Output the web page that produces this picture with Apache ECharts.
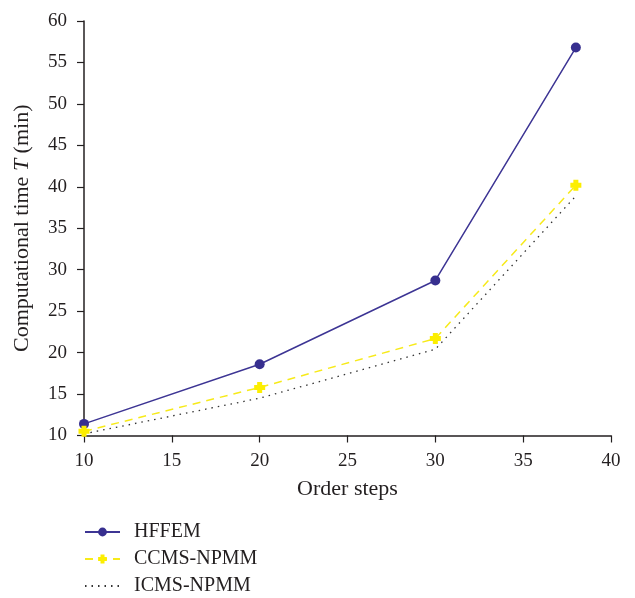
<!DOCTYPE html>
<html>
<head>
<meta charset="utf-8">
<script src="https://cdn.jsdelivr.net/npm/echarts@6/dist/echarts.min.js"></script>
<style>html,body{margin:0;padding:0;background:#fff;}#main{width:635px;height:598px;}</style>
</head>
<body>
<div id="main"></div>
<script>
const steps = [10, 20, 30, 38];
const hffem = [11.4, 18.6, 28.7, 56.8];
const ccms = [10.5, 15.8, 21.7, 40.2];
const icms = [10.2, 14.5, 20.4, 38.9];
const seriesNames = ['HFFEM', 'CCMS-NPMM', 'ICMS-NPMM'];

const font = 'Liberation Serif';
const axisColor = '#231f20';
const plusPath = 'path://M3,0 L8,0 L8,3 L11,3 L11,8 L8,8 L8,11 L3,11 L3,8 L0,8 L0,3 L3,3 Z';

function pairs(ys) { return steps.map((x, i) => [x, ys[i]]); }

const chart = echarts.init(document.getElementById('main'));
chart.setOption({
  animation: false,
  backgroundColor: '#fff',
  grid: { left: 84, right: 24, top: 21, bottom: 162.5 },
  xAxis: {
    type: 'value', min: 10, max: 40, interval: 5,
    name: 'Order steps', nameLocation: 'middle', nameGap: 43,
    nameTextStyle: { fontFamily: font, fontSize: 22, color: axisColor },
    axisLine: { show: true, lineStyle: { color: axisColor, width: 1.5 } },
    axisTick: { show: true, length: 7, lineStyle: { color: axisColor, width: 1.2 } },
    axisLabel: { fontFamily: font, fontSize: 19, color: axisColor, margin: 16 },
    splitLine: { show: false }
  },
  yAxis: {
    type: 'value', min: 10, max: 60, interval: 5,
    name: '{a|Computational time }{i|T}{a| (min)}', nameLocation: 'middle', nameGap: 51, nameRotate: 90,
    nameTextStyle: {
      rich: {
        a: { fontFamily: font, fontSize: 22, color: axisColor },
        i: { fontFamily: font, fontSize: 22, color: axisColor, fontStyle: 'italic' }
      }
    },
    axisLine: { show: true, lineStyle: { color: axisColor, width: 1.5 } },
    axisTick: { show: true, length: 7, lineStyle: { color: axisColor, width: 1.2 } },
    axisLabel: { fontFamily: font, fontSize: 19, color: axisColor, margin: 17 },
    splitLine: { show: false }
  },
  legend: {
    orient: 'vertical', left: 84, top: 522, padding: 0,
    itemWidth: 35, itemHeight: 11, itemGap: 7,
    textStyle: { fontFamily: font, fontSize: 20, lineHeight: 20, color: axisColor, padding: [0, 0, 0, 9] },
    data: [seriesNames[0], seriesNames[1], { name: seriesNames[2], itemStyle: { opacity: 0 } }]
  },
  series: [
    {
      name: seriesNames[0], type: 'line', data: pairs(hffem),
      symbol: 'circle', symbolSize: 10,
      lineStyle: { color: '#3d3594', width: 1.5 },
      itemStyle: { color: '#372f8f' }
    },
    {
      name: seriesNames[1], type: 'line', data: pairs(ccms),
      symbol: plusPath, symbolSize: 11,
      lineStyle: { color: '#f7ea1a', width: 1.5, type: [8, 6] },
      itemStyle: { color: '#fcee00' }
    },
    {
      name: seriesNames[2], type: 'line', data: pairs(icms),
      symbol: 'none', showSymbol: false,
      lineStyle: { color: '#333333', width: 1.3, type: [1.5, 5] },
      itemStyle: { color: '#333333' }
    }
  ]
});
</script>
</body>
</html>
